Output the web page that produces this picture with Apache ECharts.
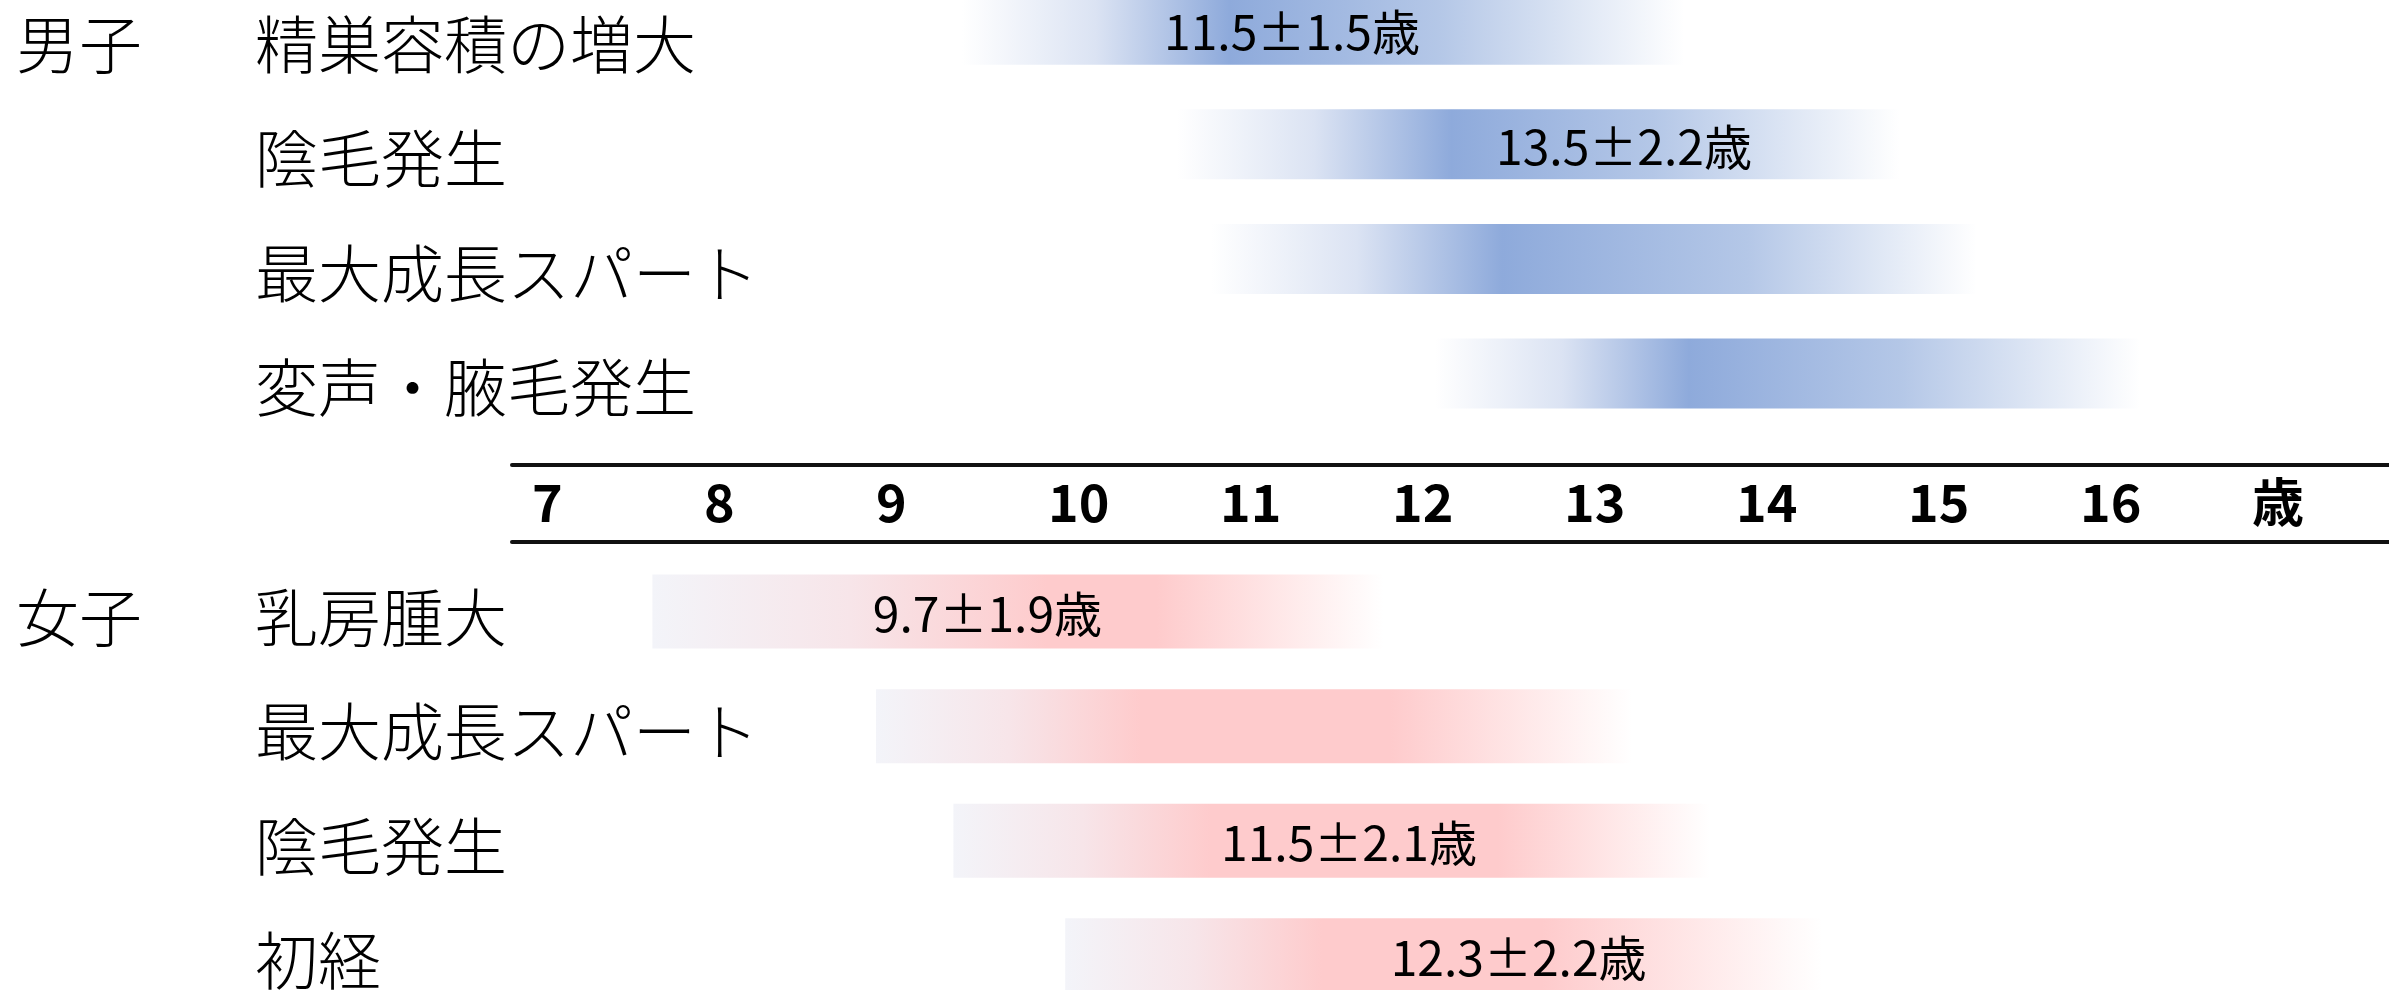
<!DOCTYPE html>
<html>
<head>
<meta charset="utf-8">
<script src="https://cdn.jsdelivr.net/npm/echarts@6/dist/echarts.min.js"></script>
<style>
  html, body { margin: 0; padding: 0; background: #ffffff; }
  #chart { width: 2389px; height: 990px; }
</style>
</head>
<body>
<div id="chart"></div>
<script>
// ---- data ----------------------------------------------------------
// Age scale (years)
const ageTicks = [7, 8, 9, 10, 11, 12, 13, 14, 15, 16];
const ageUnit = '歳';

const groupNames = ['男子', '女子'];

// Boys: pubertal events, age range of each band, mean ± SD where given
const boyEvents = ['精巣容積の増大', '陰毛発生', '最大成長スパート', '変声・腋毛発生'];
const boyStart  = [9.5, 10.75, 10.95, 12.25];
const boyEnd    = [13.7, 14.95, 15.4, 16.35];
const boyMean   = [11.5, 13.5, null, null];
const boySD     = [1.5, 2.2, null, null];

// Girls
const girlEvents = ['乳房腫大', '最大成長スパート', '陰毛発生', '初経'];
const girlStart  = [7.7, 9.0, 9.45, 10.1];
const girlEnd    = [11.95, 13.4, 13.85, 14.5];
const girlMean   = [9.7, null, 11.5, 12.3];
const girlSD     = [1.9, null, 2.1, 2.2];

// ---- layout & style --------------------------------------------------
const W = 2389, H = 990;
const PLOT_LEFT = 512;             // where the age scale lines begin
const PX_PER_YEAR = 172;
const FIRST_TICK_X = 532;          // left edge of the "7" label
const X_MIN = ageTicks[0] - (FIRST_TICK_X - PLOT_LEFT) / PX_PER_YEAR;
const X_MAX = X_MIN + (W - PLOT_LEFT) / PX_PER_YEAR;

const ROW_PX = 114.56;             // vertical pitch of the rows
const FIRST_ROW_Y = 43.8;
const Y_MIN = -FIRST_ROW_Y / ROW_PX;
const Y_MAX = Y_MIN + H / ROW_PX;

// boys use rows 0..3, the age scale sits on row 4, girls use rows 5..8
const girlRowOffset = boyEvents.length + 1;
const rowNames = {};
boyEvents.forEach((n, i) => { rowNames[i] = n; });
girlEvents.forEach((n, i) => { rowNames[i + girlRowOffset] = n; });
const rowValues = Object.keys(rowNames).map(Number);

const FONT = "'Noto Sans CJK JP', 'Noto Sans', sans-serif";

const groups = [
  {
    key: 'boy', start: boyStart, end: boyEnd, mean: boyMean, sd: boySD, rowBase: 0,
    barHeight: 70, barShift: -14,
    shade: [[0.37, 0.66], [0.38, 0.66], [0.38, 0.70], [0.36, 0.66]],
    labelNudge: [-14, -26, 0, 0]
  },
  {
    key: 'girl', start: girlStart, end: girlEnd, mean: girlMean, sd: girlSD, rowBase: girlRowOffset,
    barHeight: 74, barShift: -5,
    shade: [[0.54, 0.69], [0.35, 0.68], [0.34, 0.72], [0.34, 0.63]],
    labelNudge: [-9, 0, 43, 75]
  }
];

function bandGradient(group, i) {
  const a = group.shade[i][0], b = group.shade[i][1];
  if (group.key === 'boy') {
    return new echarts.graphic.LinearGradient(0, 0, 1, 0, [
      { offset: 0, color: '#ffffff' },
      { offset: a * 0.5, color: '#dbe3f3' },
      { offset: a, color: '#8eaadb' },
      { offset: b, color: '#b4c7e7' },
      { offset: 1, color: '#ffffff' }
    ]);
  }
  return new echarts.graphic.LinearGradient(0, 0, 1, 0, [
    { offset: 0, color: '#f3f4f9' },
    { offset: a * 0.5, color: '#f7e5e9' },
    { offset: a, color: '#fecbcc' },
    { offset: b, color: '#fecbcc' },
    { offset: 1, color: '#ffffff' }
  ]);
}

function makeSeries(group) {
  const data = group.start.map((s, i) => [s, group.end[i], group.rowBase + i]);
  return {
    type: 'custom',
    xAxisIndex: 0,
    yAxisIndex: 0,
    encode: { x: [0, 1], y: 2 },
    data: data,
    silent: true,
    clip: false,
    renderItem: function (params, api) {
      const i = params.dataIndex;
      const row = api.value(2);
      const p0 = api.coord([api.value(0), row]);
      const p1 = api.coord([api.value(1), row]);
      const cy = p0[1] + group.barShift;
      const children = [{
        type: 'rect',
        shape: { x: p0[0], y: cy - group.barHeight / 2, width: p1[0] - p0[0], height: group.barHeight },
        style: { fill: bandGradient(group, i) }
      }];
      const m = group.mean[i];
      if (m != null) {
        const pm = api.coord([m, row]);
        children.push({
          type: 'text',
          x: pm[0] + group.labelNudge[i],
          y: cy + 2,
          style: {
            text: m.toFixed(1) + '±' + group.sd[i].toFixed(1) + ageUnit,
            fill: '#000000',
            fontSize: 48,
            fontFamily: FONT,
            align: 'center',
            verticalAlign: 'middle'
          }
        });
      }
      return { type: 'group', children: children };
    }
  };
}

const chart = echarts.init(document.getElementById('chart'), null, { renderer: 'canvas' });

const hiddenAxisParts = {
  axisLine: { show: false }, axisTick: { show: false }, splitLine: { show: false }
};
const scaleLine = { show: true, onZero: false, lineStyle: { color: '#111111', width: 4 } };

chart.setOption({
  backgroundColor: '#ffffff',
  animation: false,
  grid: [
    { left: PLOT_LEFT, right: 0, top: 0, height: H, containLabel: false, outerBoundsMode: 'none' },
    { left: PLOT_LEFT, right: 0, top: 465, height: 77, containLabel: false, outerBoundsMode: 'none' }
  ],
  xAxis: [
    { gridIndex: 0, type: 'value', min: X_MIN, max: X_MAX, show: false },
    {
      gridIndex: 1, type: 'value', min: X_MIN, max: X_MAX, position: 'top',
      axisLine: scaleLine, axisTick: { show: false }, splitLine: { show: false },
      axisLabel: {
        inside: true,
        customValues: ageTicks.concat([ageTicks[ageTicks.length - 1] + 1]),
        formatter: function (v) { return v > ageTicks[ageTicks.length - 1] ? ageUnit : String(v); },
        align: 'left',
        verticalAlign: 'middle',
        margin: 37,
        fontSize: 52,
        fontWeight: 'bold',
        fontFamily: FONT,
        color: '#000000'
      }
    },
    {
      gridIndex: 1, type: 'value', min: X_MIN, max: X_MAX, position: 'bottom',
      axisLine: scaleLine, axisTick: { show: false }, splitLine: { show: false },
      axisLabel: { show: false }
    }
  ],
  yAxis: [
    {
      gridIndex: 0, type: 'value', inverse: true, min: Y_MIN, max: Y_MAX, position: 'left',
      ...hiddenAxisParts,
      axisLabel: {
        customValues: rowValues,
        formatter: function (v) { return rowNames[v] || ''; },
        align: 'left',
        margin: PLOT_LEFT - 255,
        padding: [0, 0, 6, 0],
        fontSize: 63,
        fontWeight: 300,
        fontFamily: FONT,
        color: '#000000'
      }
    },
    {
      gridIndex: 0, type: 'value', inverse: true, min: Y_MIN, max: Y_MAX, position: 'left',
      ...hiddenAxisParts,
      axisLabel: {
        customValues: [0, girlRowOffset],
        formatter: function (v) { return v === 0 ? groupNames[0] : groupNames[1]; },
        align: 'left',
        margin: PLOT_LEFT - 16,
        padding: [0, 0, 8, 0],
        fontSize: 63,
        fontWeight: 300,
        fontFamily: FONT,
        color: '#000000'
      }
    },
    { gridIndex: 1, type: 'value', show: false }
  ],
  series: groups.map(makeSeries)
});
</script>
</body>
</html>
